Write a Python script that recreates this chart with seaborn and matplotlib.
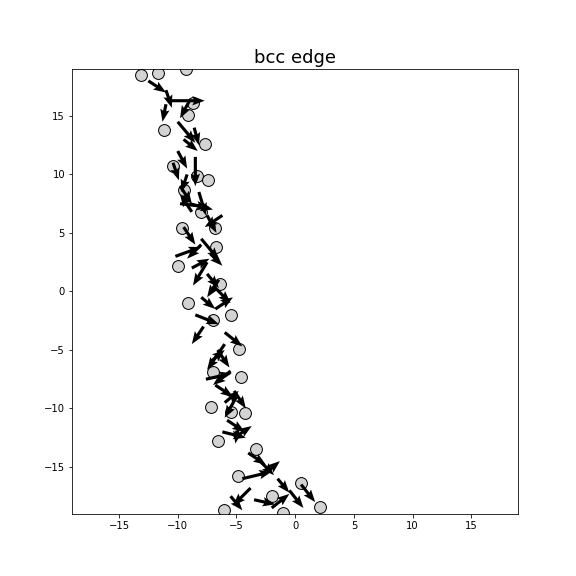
import numpy as np
import matplotlib
matplotlib.use("Agg")
import matplotlib.pyplot as plt
import seaborn as sns

# atom positions
atom_x = [-13.1, -11.7, -9.3, -8.7, -9.1, -11.2, -7.7, -10.4, -8.4, -9.5, -7.4, -9.6,
          -6.8, -6.7, -6.4, -9.1, -7.0, -5.5, -4.8, -7.0, -4.6, -7.2, -5.5, -4.3,
          -6.6, -3.3, -4.9, 0.5, 2.1, -6.1, -10.0, -8.0, -2.0, -1.0]
atom_y = [18.5, 18.7, 19.0, 16.1, 15.1, 13.8, 12.6, 10.7, 9.9, 8.7, 9.5, 5.4,
          5.4, 3.8, 0.6, -1.0, -2.4, -2.0, -4.9, -6.9, -7.3, -9.9, -10.3, -10.4,
          -12.8, -13.5, -15.8, -16.4, -18.4, -18.7, 2.2, 6.8, -17.5, -18.9]

# differential displacement arrows: start x, start y, dx, dy
arr_x = [-12.5, -11.0, -10.5, -9.0, -10.0, -9.5, -10.0, -8.5, -9.8, -8.2, -9.0, -8.8,
         -7.5, -9.5, -8.0, -7.2, -8.8, -7.5, -6.5, -8.0, -6.8, -7.8, -6.0, -6.6,
         -7.2, -5.5, -6.8, -5.2, -6.0, -5.8, -4.8, -5.2, -4.0, -3.0, -2.5, -1.5,
         -0.5, 0.5, -3.8, -5.5, -11.0, -8.6, -10.4, -9.2, -6.2, -7.0,
         -9.8, -8.0, -10.2, -7.5, -8.5, -6.0, -7.6, -5.0, -6.2, -4.5, -3.5, -2.0]
arr_y = [18.0, 17.2, 16.3, 16.3, 14.5, 13.0, 12.0, 11.5, 9.0, 8.5, 7.5, 6.8,
         6.5, 5.5, 4.0, 3.2, 2.0, 1.5, 1.0, -0.5, -1.5, -3.0, -3.5, -5.0,
         -6.0, -6.8, -8.0, -8.5, -9.5, -11.0, -11.5, -12.5, -13.8, -14.5, -15.5, -16.0,
         -17.0, -16.5, -16.8, -17.5, 16.0, 14.0, 11.0, 10.0, 6.5, 0.5,
         7.5, 4.5, 3.0, 2.5, -2.0, -4.5, -7.5, -9.0, -12.0, -16.0, -17.8, -18.5]
arr_u = [1.5, 0.5, 2.8, -0.8, 1.5, 1.2, 0.8, 0.0, 1.0, 0.6, 2.0, -1.0,
         0.8, 1.0, -1.2, 1.0, 1.5, 1.0, -1.0, 1.2, 1.5, -1.0, 1.5, 1.0,
         1.2, -1.5, 1.5, 1.0, 1.2, 1.5, -0.3, 1.5, 1.5, 1.2, 1.2, 1.0,
         1.2, 1.2, -1.5, 1.0, -0.3, 0.4, 0.5, -0.5, -1.5, 1.5,
         2.5, 1.5, 2.2, -1.2, 2.0, -1.5, 2.2, -1.0, 2.0, 2.5, 1.8, 1.5]
arr_v = [-1.0, -1.5, 0.0, -1.5, -1.8, -1.0, -1.5, -2.5, -1.5, -2.0, -0.5, 1.5,
         -1.5, -1.5, -1.2, -1.0, 0.8, -1.2, -1.5, -1.0, 1.0, -1.5, -1.2, -1.5,
         1.0, -1.2, -1.0, -1.5, 1.0, -1.0, -1.5, 1.0, -1.0, -1.2, 1.0, -1.2,
         -1.5, -1.5, -1.5, -1.2, -1.5, -1.5, -1.5, -1.5, -1.0, -1.5,
         -0.3, -1.8, 0.8, -2.0, -0.8, -2.2, 0.5, -1.8, -0.5, 0.6, -0.4, 1.2]

sns.set_style("ticks")
plt.rcParams.update({"text.color": "black", "axes.labelcolor": "black",
                     "xtick.color": "black", "ytick.color": "black"})
fig, ax = plt.subplots(figsize=(8, 8), dpi=72)
fig.subplots_adjust(left=0.125, right=0.9, bottom=0.108, top=0.88)

sns.scatterplot(x=atom_x, y=atom_y, s=140, color="lightgray", edgecolor="black",
                linewidth=1.0, ax=ax, zorder=1, legend=False)
ax.quiver(arr_x, arr_y, arr_u, arr_v, angles="xy", scale_units="xy", scale=1,
          color="black", width=0.007, headwidth=3, headlength=4,
          headaxislength=3.5, zorder=2)

ax.set_xlim(-19, 19)
ax.set_ylim(-19, 19)
ax.set_xticks([-15, -10, -5, 0, 5, 10, 15])
ax.set_yticks([-15, -10, -5, 0, 5, 10, 15])
ax.set_title("bcc edge", fontsize=18, color="black")
for s in ax.spines.values():
    s.set_color("black")
    s.set_linewidth(0.8)
fig.savefig("out.png", dpi=72, facecolor="white")
